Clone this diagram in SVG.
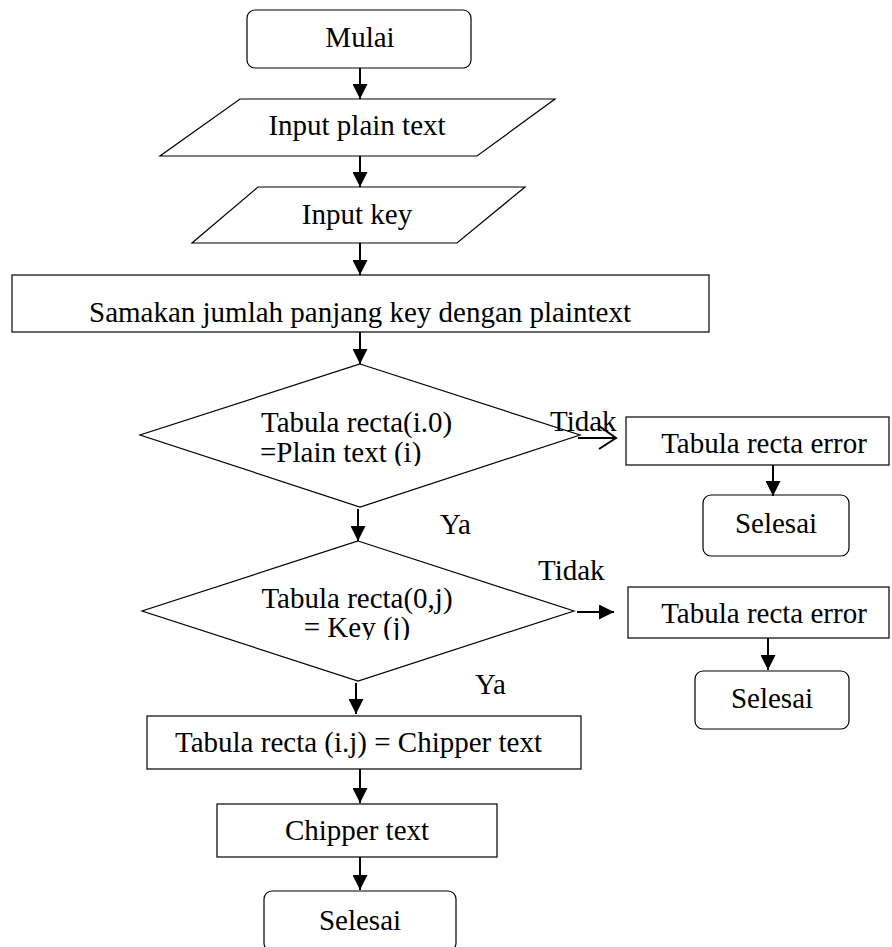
<svg xmlns="http://www.w3.org/2000/svg" width="892" height="947" viewBox="0 0 892 947">
<style>
.s{fill:#fff;stroke:#000;stroke-width:1.2}
text{font-family:'Times New Roman','Liberation Serif',Tinos,'DejaVu Serif',serif;font-size:29px;fill:#000}
.m{text-anchor:middle}
.c{stroke:#000;stroke-width:2;fill:none}
</style>
<defs>
<marker id="ah" viewBox="0 0 10 10" refX="10" refY="5" markerWidth="7.5" markerHeight="7.5" markerUnits="strokeWidth" orient="auto"><path d="M0,0 L10,5 L0,10 z" fill="#000"/></marker>
<clipPath id="c1"><rect x="0" y="0" width="892" height="466"/></clipPath>
<clipPath id="c2"><rect x="0" y="0" width="892" height="640"/></clipPath>
</defs>
<rect width="892" height="947" fill="#fff"/>
<g id="mulai"><rect class="s" x="247" y="10" width="224" height="58" rx="8"/><text class="m" x="360" y="47">Mulai</text></g>
<g id="input-plain"><polygon class="s" points="240,99 555,99 477,156 160,156"/><text class="m" x="357" y="135">Input plain text</text></g>
<g id="input-key"><polygon class="s" points="258,187 525,187 457,243 192,243"/><text class="m" x="357" y="224">Input key</text></g>
<g id="samakan"><rect class="s" x="12" y="275" width="697" height="57"/><text class="m" x="360" y="322">Samakan jumlah panjang key dengan plaintext</text></g>
<g id="dec1"><polygon class="s" points="360,364 580,435 360,507 140,435"/><text x="261" y="432">Tabula recta(i.0)</text><text x="260" y="462" clip-path="url(#c1)">=Plain text (i)</text></g>
<g id="err1"><rect class="s" x="626" y="417" width="263" height="48"/><text class="m" x="764" y="453">Tabula recta error</text></g>
<g id="selesai1"><rect class="s" x="703" y="495" width="146" height="61" rx="8"/><text class="m" x="776" y="533">Selesai</text></g>
<g id="dec2"><polygon class="s" points="358,541 574,611 358,681 142,611"/><text class="m" x="357" y="608">Tabula recta(0,j)</text><text class="m" x="357" y="637" clip-path="url(#c2)">= Key (j)</text></g>
<g id="err2"><rect class="s" x="628" y="587" width="261" height="51"/><text class="m" x="764" y="623">Tabula recta error</text></g>
<g id="selesai2"><rect class="s" x="695" y="671" width="154" height="58" rx="8"/><text class="m" x="772" y="708">Selesai</text></g>
<g id="tabula-ij"><rect class="s" x="147" y="716" width="434" height="53"/><text x="175" y="752">Tabula recta (i.j) = Chipper text</text></g>
<g id="chipper"><rect class="s" x="217" y="804" width="280" height="53"/><text class="m" x="357" y="840">Chipper text</text></g>
<g id="selesai3"><rect class="s" x="264" y="891" width="192" height="60" rx="8"/><text class="m" x="360" y="930">Selesai</text></g>
<g id="labels">
<text x="550" y="431">Tidak</text>
<text x="440" y="534">Ya</text>
<text x="538" y="580">Tidak</text>
<text x="475" y="694">Ya</text>
</g>
<g id="connectors">
<line class="c" x1="360" y1="68" x2="360" y2="99" marker-end="url(#ah)"/>
<line class="c" x1="360" y1="156" x2="360" y2="187" marker-end="url(#ah)"/>
<line class="c" x1="360" y1="243" x2="360" y2="275" marker-end="url(#ah)"/>
<line class="c" x1="360" y1="332" x2="360" y2="364" marker-end="url(#ah)"/>
<line class="c" x1="358" y1="509" x2="358" y2="541" marker-end="url(#ah)"/>
<line class="c" x1="356" y1="683" x2="356" y2="714" marker-end="url(#ah)"/>
<line class="c" x1="360" y1="769" x2="360" y2="803" marker-end="url(#ah)"/>
<line class="c" x1="360" y1="857" x2="360" y2="890" marker-end="url(#ah)"/>
<line class="c" x1="773" y1="465" x2="773" y2="496" marker-end="url(#ah)"/>
<line class="c" x1="768" y1="638" x2="768" y2="670" marker-end="url(#ah)"/>
<line class="c" x1="578" y1="438" x2="616" y2="438"/>
<polyline class="c" points="599,426 616,438 599,449"/>
<line class="c" x1="577" y1="612" x2="614" y2="612" marker-end="url(#ah)"/>
</g>
</svg>
